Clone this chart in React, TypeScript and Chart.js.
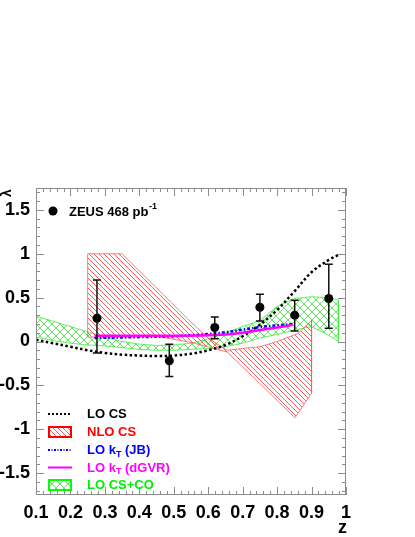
import React, { useEffect, useRef } from "react";
import { Chart, registerables } from "chart.js";

Chart.register(...registerables);

// ---- data ----
const zData = [0.277, 0.487, 0.619, 0.75, 0.851, 0.95];
const lambdaData = [0.265, -0.22, 0.16, 0.39, 0.3, 0.49];
const errLow = [-0.13, -0.4, 0.03, 0.235, 0.12, 0.15];
const errHigh = [0.7, -0.03, 0.28, 0.54, 0.47, 0.88];

const loCsZ = [0.1, 0.15, 0.2, 0.25, 0.3, 0.35, 0.4, 0.45, 0.5, 0.55, 0.6, 0.65, 0.7, 0.75, 0.8, 0.85, 0.9, 0.95, 0.98];
const loCsL = [0.02, -0.02, -0.06, -0.1, -0.13, -0.15, -0.16, -0.165, -0.16, -0.14, -0.1, -0.04, 0.06, 0.19, 0.36, 0.57, 0.79, 0.93, 0.99];

const ktZ = [0.27, 0.4, 0.5, 0.6, 0.65, 0.7, 0.75, 0.8, 0.845];
const ktJbL = [0.04, 0.05, 0.06, 0.085, 0.105, 0.135, 0.165, 0.185, 0.2];
const ktDgvrL = [0.065, 0.065, 0.065, 0.07, 0.08, 0.1, 0.13, 0.16, 0.19];

const nloUpperZ = [0.25, 0.35, 0.45, 0.55, 0.6, 0.655, 0.7, 0.75, 0.8, 0.86, 0.9];
const nloUpperL = [1.0, 1.0, 0.61, 0.22, 0.04, -0.1, -0.08, -0.06, 0.0, 0.09, 0.24];
const nloLowerZ = [0.25, 0.35, 0.45, 0.55, 0.655, 0.75, 0.852, 0.9];
const nloLowerL = [0.05, 0.05, 0.06, -0.01, -0.12, -0.48, -0.87, -0.59];

const coUpperZ = [0.1, 0.15, 0.2, 0.25, 0.3, 0.35, 0.4, 0.45, 0.5, 0.55, 0.6, 0.65, 0.7, 0.75, 0.8, 0.85, 0.9, 0.95, 0.978];
const coUpperL = [0.29, 0.23, 0.17, 0.11, 0.05, 0.0, -0.03, -0.045, -0.04, -0.02, 0.03, 0.1, 0.17, 0.24, 0.4, 0.49, 0.51, 0.5, 0.47];
const coLowerZ = [0.1, 0.15, 0.2, 0.25, 0.3, 0.35, 0.4, 0.45, 0.5, 0.55, 0.6, 0.65, 0.7, 0.75, 0.8, 0.85, 0.9, 0.95, 0.978];
const coLowerL = [0.05, 0.01, -0.02, -0.04, -0.05, -0.07, -0.09, -0.1, -0.1, -0.09, -0.08, -0.06, -0.02, 0.04, 0.08, 0.13, 0.17, 0.07, 0.0];

const xTickValues = [0.1, 0.2, 0.3, 0.4, 0.5, 0.6, 0.7, 0.8, 0.9, 1.0];
const yTickValues = [-1.5, -1, -0.5, 0, 0.5, 1, 1.5];
const xMin = 0.1;
const xMax = 1.0;
const yMin = -1.75;
const yMax = 1.75;

const dataLabel = "ZEUS 468 pb";
const dataLabelSup = "-1";
const legendEntries = [
  { main: "LO CS", sub: "", tail: "", color: "#000000", kind: "dot" },
  { main: "NLO CS", sub: "", tail: "", color: "#ff0000", kind: "hatch" },
  { main: "LO k", sub: "T", tail: " (JB)", color: "#0000ff", kind: "dashdot" },
  { main: "LO k", sub: "T", tail: " (dGVR)", color: "#ff00ff", kind: "solid" },
  { main: "LO CS+CO", sub: "", tail: "", color: "#00ee00", kind: "cross" },
];

const FONT = '"Liberation Sans", Arial, Helvetica, sans-serif';

const pts = (xs: number[], ys: number[]) => xs.map((x, i) => ({ x, y: ys[i] }));
const polygon = (uz: number[], ul: number[], lz: number[], ll: number[]) => {
  const up = pts(uz, ul);
  const lo = pts(lz, ll).reverse();
  return [...up, ...lo, up[0]];
};

function makePattern(cross: boolean, color: string, size: number) {
  const c = document.createElement("canvas");
  c.width = size;
  c.height = size;
  const g = c.getContext("2d")!;
  g.strokeStyle = color;
  g.lineWidth = 1;
  g.beginPath();
  for (const k of [-size, 0, size]) {
    g.moveTo(k - 1, -1);
    g.lineTo(k + size + 1, size + 1);
    if (cross) {
      g.moveTo(k - 1, size + 1);
      g.lineTo(k + size + 1, -1);
    }
  }
  g.stroke();
  return g.createPattern(c, "repeat")!;
}

const fmt = (v: any) => String(Number(Number(v).toFixed(1)));

export default function App() {
  const ref = useRef<HTMLCanvasElement | null>(null);

  useEffect(() => {
    const canvas = ref.current!;
    const redHatch = makePattern(false, "rgba(255,40,40,0.75)", 5);
    const greenHatch = makePattern(true, "rgba(40,230,40,0.75)", 8);

    const errorBars = {
      id: "errorBars",
      afterDatasetsDraw(chart: any) {
        const { ctx, scales } = chart;
        const x = scales.x;
        const y = scales.y;
        ctx.save();
        ctx.strokeStyle = "#111";
        ctx.lineWidth = 1.5;
        zData.forEach((z, i) => {
          const px = x.getPixelForValue(z);
          const lo = y.getPixelForValue(errLow[i]);
          const hi = y.getPixelForValue(errHigh[i]);
          ctx.beginPath();
          ctx.moveTo(px, lo);
          ctx.lineTo(px, hi);
          ctx.moveTo(px - 4, lo);
          ctx.lineTo(px + 4, lo);
          ctx.moveTo(px - 4, hi);
          ctx.lineTo(px + 4, hi);
          ctx.stroke();
        });
        ctx.restore();
      },
    };

    const frame = {
      id: "frame",
      afterDraw(chart: any) {
        const { ctx, chartArea: a, scales } = chart;
        const x = scales.x;
        const y = scales.y;
        ctx.save();
        ctx.strokeStyle = "#8c8c8c";
        ctx.lineWidth = 1;
        ctx.strokeRect(a.left + 0.5, a.top + 0.5, a.right - a.left - 1, a.bottom - a.top - 1);
        ctx.beginPath();
        for (let i = 0; i <= 45; i++) {
          const v = xMin + i * 0.02;
          const px = Math.round(x.getPixelForValue(v)) + 0.5;
          const len = i % 5 === 0 ? 8 : 4;
          ctx.moveTo(px, a.bottom);
          ctx.lineTo(px, a.bottom - len);
          ctx.moveTo(px, a.top);
          ctx.lineTo(px, a.top + len);
        }
        for (let k = -17; k <= 17; k++) {
          const py = Math.round(y.getPixelForValue(k * 0.1)) + 0.5;
          const len = k % 5 === 0 ? 8 : 4;
          ctx.moveTo(a.left, py);
          ctx.lineTo(a.left + len, py);
          ctx.moveTo(a.right, py);
          ctx.lineTo(a.right - len, py);
        }
        ctx.stroke();

        // axis titles
        ctx.fillStyle = "#000";
        ctx.font = `bold 18px ${FONT}`;
        ctx.textAlign = "right";
        ctx.textBaseline = "alphabetic";
        ctx.fillText("z", a.right + 1, 533);
        ctx.save();
        ctx.translate(7, 193);
        ctx.rotate(-Math.PI / 2);
        ctx.font = `bold 14px ${FONT}`;
        ctx.textAlign = "center";
        ctx.textBaseline = "middle";
        ctx.fillText("λ", 0, 0);
        ctx.restore();
        ctx.restore();
      },
    };

    const legend = {
      id: "customLegend",
      afterDraw(chart: any) {
        const { ctx } = chart;
        ctx.save();
        ctx.fillStyle = "#000";
        ctx.beginPath();
        ctx.arc(53, 211, 4.5, 0, Math.PI * 2);
        ctx.fill();
        ctx.font = `bold 13px ${FONT}`;
        ctx.textAlign = "left";
        ctx.textBaseline = "middle";
        ctx.fillText(dataLabel, 69, 212);
        const w = ctx.measureText(dataLabel).width;
        ctx.font = `bold 9px ${FONT}`;
        ctx.fillText(dataLabelSup, 69 + w + 0.5, 207);

        const rows = [414, 432, 450, 467.5, 485];
        legendEntries.forEach((e, i) => {
          const cy = rows[i];
          ctx.save();
          if (e.kind === "hatch" || e.kind === "cross") {
            ctx.fillStyle = e.kind === "hatch" ? redHatch : greenHatch;
            ctx.fillRect(49, cy - 5, 22, 10);
            ctx.strokeStyle = e.kind === "hatch" ? "#ff0000" : "#00ff00";
            ctx.lineWidth = 2;
            ctx.strokeRect(49, cy - 5, 22, 10);
          } else {
            ctx.strokeStyle = e.color;
            ctx.lineWidth = 2;
            if (e.kind === "dot") ctx.setLineDash([2, 2]);
            if (e.kind === "dashdot") ctx.setLineDash([2, 1.5, 1, 1.5]);
            ctx.beginPath();
            ctx.moveTo(48, cy);
            ctx.lineTo(72, cy);
            ctx.stroke();
          }
          ctx.restore();
          ctx.fillStyle = e.color;
          ctx.font = `bold 13px ${FONT}`;
          ctx.textAlign = "left";
          ctx.textBaseline = "middle";
          let tx = 87;
          ctx.fillText(e.main, tx, cy + 0.5);
          tx += ctx.measureText(e.main).width;
          if (e.sub) {
            ctx.font = `bold 9px ${FONT}`;
            ctx.fillText(e.sub, tx, cy + 4.5);
            tx += ctx.measureText(e.sub).width;
            ctx.font = `bold 13px ${FONT}`;
          }
          if (e.tail) ctx.fillText(e.tail, tx, cy + 0.5);
        });
        ctx.restore();
      },
    };

    const chart = new Chart(canvas, {
      type: "line",
      data: {
        datasets: [
          {
            label: "LO CS+CO",
            data: polygon(coUpperZ, coUpperL, coLowerZ, coLowerL),
            borderColor: "rgba(60,235,60,0.8)",
            borderWidth: 1,
            backgroundColor: greenHatch,
            fill: "shape",
            pointRadius: 0,
            tension: 0,
            order: 6,
          } as any,
          {
            label: "NLO CS",
            data: polygon(nloUpperZ, nloUpperL, nloLowerZ, nloLowerL),
            borderColor: "rgba(255,90,90,0.8)",
            borderWidth: 1,
            backgroundColor: redHatch,
            fill: "shape",
            pointRadius: 0,
            tension: 0,
            order: 5,
          } as any,
          {
            label: "LO CS",
            data: pts(loCsZ, loCsL),
            borderColor: "#000",
            borderWidth: 2.5,
            borderDash: [2.5, 2.5],
            pointRadius: 0,
            tension: 0.35,
            fill: false,
            order: 4,
          },
          {
            label: "LO kT (JB)",
            data: pts(ktZ, ktJbL),
            borderColor: "#0000ff",
            borderWidth: 2.5,
            borderDash: [3, 2, 1.5, 2],
            pointRadius: 0,
            tension: 0.35,
            fill: false,
            order: 3,
          },
          {
            label: "LO kT (dGVR)",
            data: pts(ktZ, ktDgvrL),
            borderColor: "#ff00ff",
            borderWidth: 2.5,
            pointRadius: 0,
            tension: 0.35,
            fill: false,
            order: 2,
          },
          {
            label: "ZEUS",
            data: pts(zData, lambdaData),
            showLine: false,
            pointRadius: 4.5,
            pointBackgroundColor: "#000",
            pointBorderColor: "#000",
            pointBorderWidth: 0,
            fill: false,
            order: 1,
          },
        ],
      },
      options: {
        responsive: false,
        animation: false,
        devicePixelRatio: 1,
        layout: { padding: { left: 0, right: 69, top: 188, bottom: 0 } },
        plugins: { legend: { display: false }, tooltip: { enabled: false } },
        scales: {
          x: {
            type: "linear",
            min: xMin,
            max: xMax,
            grid: { display: false, drawTicks: false },
            border: { display: false },
            afterBuildTicks: (s: any) => {
              s.ticks = xTickValues.map((v) => ({ value: v }));
            },
            ticks: {
              color: "#000",
              padding: 7,
              maxRotation: 0,
              autoSkip: false,
              font: { family: FONT, size: 18, weight: "bold" },
              callback: fmt,
            },
            afterFit: (s: any) => {
              s.height = 42;
            },
          },
          y: {
            type: "linear",
            min: yMin,
            max: yMax,
            grid: { display: false, drawTicks: false },
            border: { display: false },
            afterBuildTicks: (s: any) => {
              s.ticks = yTickValues.map((v) => ({ value: v }));
            },
            ticks: {
              color: "#000",
              padding: 6,
              autoSkip: false,
              font: { family: FONT, size: 18, weight: "bold" },
              callback: fmt,
            },
            afterFit: (s: any) => {
              s.width = 36;
            },
          },
        },
      },
      plugins: [errorBars, frame, legend],
    });

    return () => chart.destroy();
  }, []);

  return (
    <div style={{ position: "absolute", left: 0, top: 0, width: 415, height: 537, background: "#fff" }}>
      <canvas ref={ref} width={415} height={537} style={{ display: "block" }} />
    </div>
  );
}
